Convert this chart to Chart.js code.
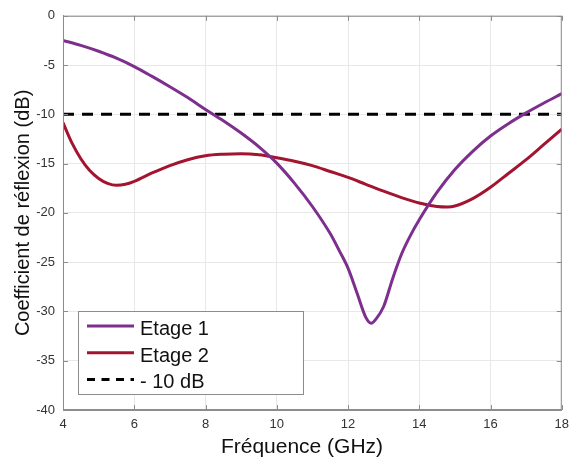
<!DOCTYPE html>
<html>
<head>
<meta charset="utf-8">
<script src="https://cdn.jsdelivr.net/npm/chart.js@4/dist/chart.umd.min.js"></script>
<style>
  body { margin: 0; background: #fff; }
  #wrap { width: 576px; height: 459px; }
</style>
</head>
<body>
<div id="wrap"><canvas id="chart" width="576" height="459"></canvas></div>
<script>
// values
let freq1 = [4, 4.5, 5, 5.5, 6, 6.5, 7, 7.5, 8, 8.5, 9, 9.5, 10, 10.5, 11, 11.5, 11.75, 12, 12.25, 12.5, 12.65, 12.8, 13, 13.25, 13.5, 13.75, 14, 14.5, 15, 15.5, 16, 16.5, 17, 17.5, 18];
let etage1 = [-2.5, -3.0, -3.6, -4.3, -5.15, -6.15, -7.2, -8.3, -9.5, -10.65, -11.9, -13.3, -14.95, -17.0, -19.35, -22.1, -23.8, -25.6, -28.1, -30.6, -31.2, -30.7, -29.5, -26.7, -24.2, -22.3, -20.7, -17.9, -15.6, -13.75, -12.2, -10.95, -9.85, -8.85, -7.9];
let freq2 = [4, 4.25, 4.5, 4.75, 5, 5.25, 5.5, 5.75, 6, 6.5, 7, 7.5, 8, 8.5, 9, 9.5, 10, 10.5, 11, 11.5, 12, 12.5, 13, 13.5, 14, 14.5, 14.8, 15, 15.5, 16, 16.5, 17, 17.5, 18];
let etage2 = [-10.85, -12.9, -14.5, -15.7, -16.5, -17.0, -17.2, -17.1, -16.8, -15.95, -15.2, -14.6, -14.2, -14.05, -14.0, -14.1, -14.4, -14.75, -15.2, -15.8, -16.4, -17.1, -17.8, -18.45, -19.0, -19.35, -19.4, -19.3, -18.55, -17.4, -16.0, -14.6, -13.05, -11.5];
let seuilFreq = [4, 18];
let seuil = [-10, -10];
let labels = ["Etage 1", "Etage 2", "- 10 dB"];
let xTicks = [4, 6, 8, 10, 12, 14, 16, 18];
let yTicks = [0, -5, -10, -15, -20, -25, -30, -35, -40];
let xTitle = "Fréquence (GHz)";
let yTitle = "Coefficient de réflexion (dB)";

function toPoints(xs, ys) {
  return xs.map((x, i) => ({ x: x, y: ys[i] }));
}

let axisColor = "#8c8c8c";
let textColor = "#333333";
let fontFamily = "'Liberation Sans', Arial, sans-serif";

// box around the plot + inward ticks (matlab style)
let boxPlugin = {
  id: "box",
  afterDraw(chart) {
    let ctx = chart.ctx;
    let a = chart.chartArea;
    let xs = chart.scales.x, ys = chart.scales.y;
    ctx.save();
    ctx.strokeStyle = axisColor;
    ctx.lineWidth = 1;
    ctx.strokeRect(a.left + 0.5, a.top + 0.5, a.right - a.left - 1, a.bottom - a.top - 1);
    ctx.beginPath();
    xTicks.forEach(v => {
      let px = Math.round(xs.getPixelForValue(v)) + 0.5;
      ctx.moveTo(px, a.bottom); ctx.lineTo(px, a.bottom - 5);
      ctx.moveTo(px, a.top); ctx.lineTo(px, a.top + 5);
    });
    yTicks.forEach(v => {
      let py = Math.round(ys.getPixelForValue(v)) + 0.5;
      ctx.moveTo(a.left, py); ctx.lineTo(a.left + 5, py);
      ctx.moveTo(a.right, py); ctx.lineTo(a.right - 5, py);
    });
    ctx.stroke();
    // x axis title, sits a bit left of the plot centre in the original
    ctx.font = "21px " + fontFamily;
    ctx.fillStyle = "#111";
    ctx.textAlign = "center";
    ctx.textBaseline = "alphabetic";
    ctx.fillText(xTitle, 302, 453);
    ctx.restore();
  }
};

// legend drawn inside the plot, lower left
let innerLegend = {
  id: "innerLegend",
  afterDraw(chart) {
    let ctx = chart.ctx;
    let x0 = 78, y0 = 311, w = 225, h = 83;
    ctx.save();
    ctx.fillStyle = "#fff";
    ctx.fillRect(x0, y0, w, h);
    ctx.strokeStyle = "#8c8c8c";
    ctx.lineWidth = 1;
    ctx.strokeRect(x0 + 0.5, y0 + 0.5, w, h);
    ctx.font = "20px " + fontFamily;
    ctx.textBaseline = "alphabetic";
    chart.data.datasets.forEach((ds, i) => {
      let yy = y0 + 15 + i * 26.7;
      ctx.strokeStyle = ds.borderColor;
      ctx.lineWidth = ds.borderWidth;
      ctx.setLineDash(ds.borderDash ? [8, 6.5] : []);
      ctx.beginPath();
      ctx.moveTo(x0 + 9, yy);
      ctx.lineTo(x0 + 56, yy);
      ctx.stroke();
      ctx.setLineDash([]);
      ctx.fillStyle = "#111";
      ctx.fillText(ds.label, x0 + 62, yy + 9);
    });
    ctx.restore();
  }
};

let config = {
  type: "line",
  data: {
    datasets: [
      {
        label: labels[0],
        data: toPoints(freq1, etage1),
        borderColor: "#7E2F8E",
        borderWidth: 3,
        pointRadius: 0,
        cubicInterpolationMode: "monotone",
      },
      {
        label: labels[1],
        data: toPoints(freq2, etage2),
        borderColor: "#A2142F",
        borderWidth: 3,
        pointRadius: 0,
        cubicInterpolationMode: "monotone",
      },
      {
        label: labels[2],
        data: toPoints(seuilFreq, seuil),
        borderColor: "#000000",
        borderWidth: 3,
        borderDash: [11, 8],
        pointRadius: 0,
      },
    ],
  },
  options: {
    responsive: false,
    animation: false,
    layout: { padding: { top: 12, right: 7, left: 0, bottom: 0 } },
    plugins: {
      legend: { display: false },
      tooltip: { enabled: false },
    },
    scales: {
      x: {
        type: "linear",
        min: 4,
        max: 18,
        afterBuildTicks: (s) => { s.ticks = xTicks.map(v => ({ value: v })); },
        afterFit: (s) => { s.height = 49; },
        ticks: {
          color: textColor,
          font: { family: fontFamily, size: 13 },
          padding: 7,
          maxRotation: 0,
        },
        grid: { color: "#e8e8e8", drawTicks: false },
        border: { color: axisColor },
      },
      y: {
        type: "linear",
        min: -40,
        max: 0,
        afterBuildTicks: (s) => { s.ticks = yTicks.map(v => ({ value: v })); },
        afterFit: (s) => { s.width = 63; },
        ticks: {
          color: textColor,
          font: { family: fontFamily, size: 13 },
          padding: 8,
        },
        grid: { color: "#e8e8e8", drawTicks: false },
        border: { color: axisColor },
        title: {
          display: true,
          text: yTitle,
          color: "#111",
          font: { family: fontFamily, size: 20 },
          padding: { top: 11, bottom: 0 },
        },
      },
    },
  },
  plugins: [boxPlugin, innerLegend],
};

let chart = new Chart(document.getElementById("chart"), config);
</script>
</body>
</html>
